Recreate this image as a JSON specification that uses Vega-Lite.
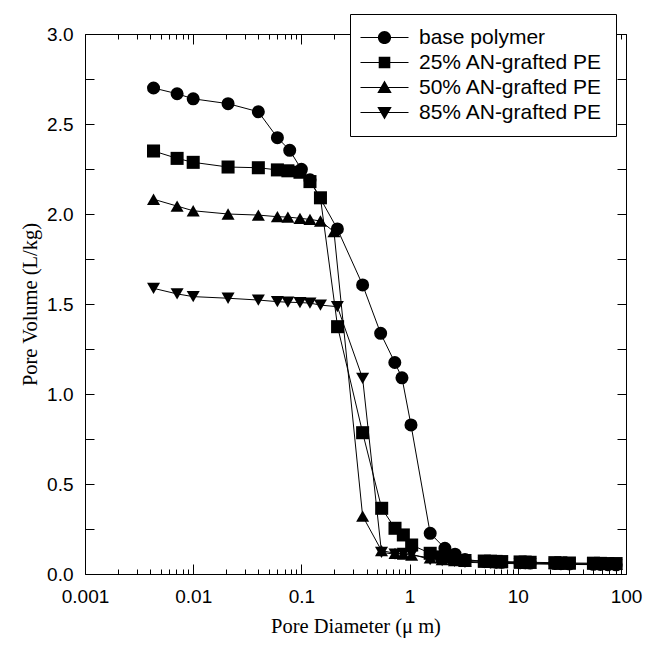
{
  "$schema": "https://vega.github.io/schema/vega-lite/v6.json",
  "width": 541,
  "height": 540,
  "autosize": {"type": "none"},
  "padding": {"left": 85, "top": 34, "right": 20, "bottom": 73},
  "background": "white",
  "config": {
    "view": {"stroke": null},
    "axis": {
      "grid": false,
      "domainColor": "black",
      "domainWidth": 1,
      "tickColor": "black",
      "tickWidth": 1,
      "labelColor": "black",
      "labelFont": "Liberation Sans",
      "labelFontSize": 19,
      "titleColor": "black",
      "titleFont": "Liberation Serif",
      "titleFontSize": 20.5,
      "titleFontWeight": "normal"
    }
  },
  "data": {
    "values": [
      {"diameter": 0.0043, "volume": 2.70, "series": "base polymer"},
      {"diameter": 0.0071, "volume": 2.668, "series": "base polymer"},
      {"diameter": 0.01, "volume": 2.64, "series": "base polymer"},
      {"diameter": 0.021, "volume": 2.613, "series": "base polymer"},
      {"diameter": 0.04, "volume": 2.568, "series": "base polymer"},
      {"diameter": 0.06, "volume": 2.424, "series": "base polymer"},
      {"diameter": 0.078, "volume": 2.354, "series": "base polymer"},
      {"diameter": 0.1, "volume": 2.248, "series": "base polymer"},
      {"diameter": 0.12, "volume": 2.19, "series": "base polymer"},
      {"diameter": 0.215, "volume": 1.917, "series": "base polymer"},
      {"diameter": 0.368, "volume": 1.606, "series": "base polymer"},
      {"diameter": 0.54, "volume": 1.337, "series": "base polymer"},
      {"diameter": 0.73, "volume": 1.175, "series": "base polymer"},
      {"diameter": 0.85, "volume": 1.09, "series": "base polymer"},
      {"diameter": 1.03, "volume": 0.828, "series": "base polymer"},
      {"diameter": 1.55, "volume": 0.226, "series": "base polymer"},
      {"diameter": 2.12, "volume": 0.143, "series": "base polymer"},
      {"diameter": 2.63, "volume": 0.11, "series": "base polymer"},
      {"diameter": 3.25, "volume": 0.08, "series": "base polymer"},
      {"diameter": 4.9, "volume": 0.07, "series": "base polymer"},
      {"diameter": 5.6, "volume": 0.068, "series": "base polymer"},
      {"diameter": 6.3, "volume": 0.066, "series": "base polymer"},
      {"diameter": 7.1, "volume": 0.065, "series": "base polymer"},
      {"diameter": 10.5, "volume": 0.063, "series": "base polymer"},
      {"diameter": 11.7, "volume": 0.062, "series": "base polymer"},
      {"diameter": 13, "volume": 0.061, "series": "base polymer"},
      {"diameter": 22, "volume": 0.058, "series": "base polymer"},
      {"diameter": 25, "volume": 0.057, "series": "base polymer"},
      {"diameter": 30, "volume": 0.056, "series": "base polymer"},
      {"diameter": 50, "volume": 0.054, "series": "base polymer"},
      {"diameter": 58, "volume": 0.053, "series": "base polymer"},
      {"diameter": 68, "volume": 0.052, "series": "base polymer"},
      {"diameter": 81, "volume": 0.051, "series": "base polymer"},

      {"diameter": 0.0043, "volume": 2.35, "series": "25% AN-grafted PE"},
      {"diameter": 0.0071, "volume": 2.309, "series": "25% AN-grafted PE"},
      {"diameter": 0.01, "volume": 2.287, "series": "25% AN-grafted PE"},
      {"diameter": 0.021, "volume": 2.261, "series": "25% AN-grafted PE"},
      {"diameter": 0.04, "volume": 2.257, "series": "25% AN-grafted PE"},
      {"diameter": 0.06, "volume": 2.245, "series": "25% AN-grafted PE"},
      {"diameter": 0.075, "volume": 2.24, "series": "25% AN-grafted PE"},
      {"diameter": 0.097, "volume": 2.232, "series": "25% AN-grafted PE"},
      {"diameter": 0.12, "volume": 2.18, "series": "25% AN-grafted PE"},
      {"diameter": 0.15, "volume": 2.09, "series": "25% AN-grafted PE"},
      {"diameter": 0.216, "volume": 1.374, "series": "25% AN-grafted PE"},
      {"diameter": 0.368, "volume": 0.785, "series": "25% AN-grafted PE"},
      {"diameter": 0.552, "volume": 0.365, "series": "25% AN-grafted PE"},
      {"diameter": 0.733, "volume": 0.254, "series": "25% AN-grafted PE"},
      {"diameter": 0.875, "volume": 0.217, "series": "25% AN-grafted PE"},
      {"diameter": 1.045, "volume": 0.161, "series": "25% AN-grafted PE"},
      {"diameter": 1.55, "volume": 0.115, "series": "25% AN-grafted PE"},
      {"diameter": 2.0, "volume": 0.095, "series": "25% AN-grafted PE"},
      {"diameter": 2.6, "volume": 0.085, "series": "25% AN-grafted PE"},
      {"diameter": 3.25, "volume": 0.075, "series": "25% AN-grafted PE"},
      {"diameter": 4.9, "volume": 0.072, "series": "25% AN-grafted PE"},
      {"diameter": 5.6, "volume": 0.071, "series": "25% AN-grafted PE"},
      {"diameter": 6.3, "volume": 0.07, "series": "25% AN-grafted PE"},
      {"diameter": 7.1, "volume": 0.069, "series": "25% AN-grafted PE"},
      {"diameter": 10.5, "volume": 0.067, "series": "25% AN-grafted PE"},
      {"diameter": 11.7, "volume": 0.066, "series": "25% AN-grafted PE"},
      {"diameter": 13, "volume": 0.065, "series": "25% AN-grafted PE"},
      {"diameter": 22, "volume": 0.063, "series": "25% AN-grafted PE"},
      {"diameter": 25, "volume": 0.062, "series": "25% AN-grafted PE"},
      {"diameter": 30, "volume": 0.061, "series": "25% AN-grafted PE"},
      {"diameter": 50, "volume": 0.06, "series": "25% AN-grafted PE"},
      {"diameter": 58, "volume": 0.059, "series": "25% AN-grafted PE"},
      {"diameter": 68, "volume": 0.058, "series": "25% AN-grafted PE"},
      {"diameter": 81, "volume": 0.058, "series": "25% AN-grafted PE"},

      {"diameter": 0.0043, "volume": 2.082, "series": "50% AN-grafted PE"},
      {"diameter": 0.0071, "volume": 2.044, "series": "50% AN-grafted PE"},
      {"diameter": 0.01, "volume": 2.018, "series": "50% AN-grafted PE"},
      {"diameter": 0.021, "volume": 2.0, "series": "50% AN-grafted PE"},
      {"diameter": 0.04, "volume": 1.994, "series": "50% AN-grafted PE"},
      {"diameter": 0.06, "volume": 1.985, "series": "50% AN-grafted PE"},
      {"diameter": 0.075, "volume": 1.983, "series": "50% AN-grafted PE"},
      {"diameter": 0.097, "volume": 1.976, "series": "50% AN-grafted PE"},
      {"diameter": 0.12, "volume": 1.97, "series": "50% AN-grafted PE"},
      {"diameter": 0.15, "volume": 1.961, "series": "50% AN-grafted PE"},
      {"diameter": 0.2, "volume": 1.902, "series": "50% AN-grafted PE"},
      {"diameter": 0.368, "volume": 0.322, "series": "50% AN-grafted PE"},
      {"diameter": 0.55, "volume": 0.13, "series": "50% AN-grafted PE"},
      {"diameter": 0.733, "volume": 0.115, "series": "50% AN-grafted PE"},
      {"diameter": 0.875, "volume": 0.11, "series": "50% AN-grafted PE"},
      {"diameter": 1.045, "volume": 0.105, "series": "50% AN-grafted PE"},
      {"diameter": 1.55, "volume": 0.09, "series": "50% AN-grafted PE"},
      {"diameter": 2.0, "volume": 0.08, "series": "50% AN-grafted PE"},
      {"diameter": 2.6, "volume": 0.075, "series": "50% AN-grafted PE"},
      {"diameter": 3.25, "volume": 0.07, "series": "50% AN-grafted PE"},
      {"diameter": 4.9, "volume": 0.066, "series": "50% AN-grafted PE"},
      {"diameter": 5.6, "volume": 0.065, "series": "50% AN-grafted PE"},
      {"diameter": 6.3, "volume": 0.064, "series": "50% AN-grafted PE"},
      {"diameter": 7.1, "volume": 0.063, "series": "50% AN-grafted PE"},
      {"diameter": 10.5, "volume": 0.061, "series": "50% AN-grafted PE"},
      {"diameter": 11.7, "volume": 0.06, "series": "50% AN-grafted PE"},
      {"diameter": 13, "volume": 0.06, "series": "50% AN-grafted PE"},
      {"diameter": 22, "volume": 0.058, "series": "50% AN-grafted PE"},
      {"diameter": 25, "volume": 0.057, "series": "50% AN-grafted PE"},
      {"diameter": 30, "volume": 0.057, "series": "50% AN-grafted PE"},
      {"diameter": 50, "volume": 0.056, "series": "50% AN-grafted PE"},
      {"diameter": 58, "volume": 0.055, "series": "50% AN-grafted PE"},
      {"diameter": 68, "volume": 0.055, "series": "50% AN-grafted PE"},
      {"diameter": 81, "volume": 0.054, "series": "50% AN-grafted PE"},

      {"diameter": 0.0043, "volume": 1.587, "series": "85% AN-grafted PE"},
      {"diameter": 0.0071, "volume": 1.556, "series": "85% AN-grafted PE"},
      {"diameter": 0.01, "volume": 1.541, "series": "85% AN-grafted PE"},
      {"diameter": 0.021, "volume": 1.532, "series": "85% AN-grafted PE"},
      {"diameter": 0.04, "volume": 1.522, "series": "85% AN-grafted PE"},
      {"diameter": 0.06, "volume": 1.513, "series": "85% AN-grafted PE"},
      {"diameter": 0.075, "volume": 1.51, "series": "85% AN-grafted PE"},
      {"diameter": 0.097, "volume": 1.508, "series": "85% AN-grafted PE"},
      {"diameter": 0.12, "volume": 1.505, "series": "85% AN-grafted PE"},
      {"diameter": 0.15, "volume": 1.494, "series": "85% AN-grafted PE"},
      {"diameter": 0.215, "volume": 1.485, "series": "85% AN-grafted PE"},
      {"diameter": 0.368, "volume": 1.087, "series": "85% AN-grafted PE"},
      {"diameter": 0.55, "volume": 0.12, "series": "85% AN-grafted PE"},
      {"diameter": 0.733, "volume": 0.11, "series": "85% AN-grafted PE"},
      {"diameter": 0.875, "volume": 0.115, "series": "85% AN-grafted PE"},
      {"diameter": 1.045, "volume": 0.11, "series": "85% AN-grafted PE"},
      {"diameter": 1.55, "volume": 0.08, "series": "85% AN-grafted PE"},
      {"diameter": 2.0, "volume": 0.075, "series": "85% AN-grafted PE"},
      {"diameter": 2.6, "volume": 0.07, "series": "85% AN-grafted PE"},
      {"diameter": 3.25, "volume": 0.065, "series": "85% AN-grafted PE"},
      {"diameter": 4.9, "volume": 0.062, "series": "85% AN-grafted PE"},
      {"diameter": 5.6, "volume": 0.061, "series": "85% AN-grafted PE"},
      {"diameter": 6.3, "volume": 0.06, "series": "85% AN-grafted PE"},
      {"diameter": 7.1, "volume": 0.059, "series": "85% AN-grafted PE"},
      {"diameter": 10.5, "volume": 0.057, "series": "85% AN-grafted PE"},
      {"diameter": 11.7, "volume": 0.056, "series": "85% AN-grafted PE"},
      {"diameter": 13, "volume": 0.056, "series": "85% AN-grafted PE"},
      {"diameter": 22, "volume": 0.054, "series": "85% AN-grafted PE"},
      {"diameter": 25, "volume": 0.053, "series": "85% AN-grafted PE"},
      {"diameter": 30, "volume": 0.053, "series": "85% AN-grafted PE"},
      {"diameter": 50, "volume": 0.052, "series": "85% AN-grafted PE"},
      {"diameter": 58, "volume": 0.051, "series": "85% AN-grafted PE"},
      {"diameter": 68, "volume": 0.051, "series": "85% AN-grafted PE"},
      {"diameter": 81, "volume": 0.05, "series": "85% AN-grafted PE"}
    ]
  },
  "layer": [
    {
      "mark": {"type": "line", "color": "black", "strokeWidth": 1},
      "encoding": {
        "x": {
          "field": "diameter", "type": "quantitative",
          "scale": {"type": "log", "domain": [0.001, 100]},
          "title": "Pore Diameter (μ m)",
          "axis": {
            "orient": "bottom",
            "values": [0.001, 0.01, 0.1, 1, 10, 100],
            "format": "~g",
            "ticks": false,
            "labelPadding": 13,
            "labelFlush": false,
            "labelOverlap": false,
            "titlePadding": 10
          }
        },
        "y": {
          "field": "volume", "type": "quantitative",
          "scale": {"domain": [0, 3]},
          "title": "Pore Volume (L/kg)",
          "axis": {
            "orient": "left",
            "values": [0, 0.5, 1, 1.5, 2, 2.5, 3],
            "format": ".1f",
            "ticks": false,
            "labelPadding": 12,
            "labelOverlap": false,
            "titlePadding": 6
          }
        },
        "detail": {"field": "series"}
      }
    },
    {
      "mark": {"type": "point", "filled": true, "color": "black", "opacity": 1, "size": 170},
      "encoding": {
        "x": {
          "field": "diameter", "type": "quantitative",
          "scale": {"type": "log", "domain": [0.001, 100]},
          "axis": {
            "orient": "top",
            "offset": -540,
            "title": null,
            "labels": false,
            "domain": false,
            "values": [0.001,0.002,0.003,0.004,0.005,0.006,0.007,0.008,0.009,0.01,0.02,0.03,0.04,0.05,0.06,0.07,0.08,0.09,0.1,0.2,0.3,0.4,0.5,0.6,0.7,0.8,0.9,1,2,3,4,5,6,7,8,9,10,20,30,40,50,60,70,80,90,100],
            "tickSize": {"condition": {"test": "indexof([0.001,0.01,0.1,1,10,100], datum.value) >= 0", "value": 10}, "value": 5}
          }
        },
        "y": {
          "field": "volume", "type": "quantitative",
          "scale": {"domain": [0, 3]},
          "axis": {
            "orient": "right",
            "offset": -541,
            "title": null,
            "labels": false,
            "domain": false,
            "values": [0,0.25,0.5,0.75,1,1.25,1.5,1.75,2,2.25,2.5,2.75,3],
            "tickSize": 9
          }
        },
        "shape": {
          "field": "series", "type": "nominal",
          "scale": {
            "domain": ["base polymer", "25% AN-grafted PE", "50% AN-grafted PE", "85% AN-grafted PE"],
            "range": ["circle", "square", "triangle-up", "triangle-down"]
          },
          "legend": null
        }
      }
    },
    {
      "mark": {"type": "point", "opacity": 0},
      "encoding": {
        "x": {
          "field": "diameter", "type": "quantitative",
          "scale": {"type": "log", "domain": [0.001, 100]},
          "axis": {
            "orient": "bottom",
            "offset": -540,
            "title": null,
            "labels": false,
            "domain": true,
            "values": [0.001,0.002,0.003,0.004,0.005,0.006,0.007,0.008,0.009,0.01,0.02,0.03,0.04,0.05,0.06,0.07,0.08,0.09,0.1,0.2,0.3,0.4,0.5,0.6,0.7,0.8,0.9,1,2,3,4,5,6,7,8,9,10,20,30,40,50,60,70,80,90,100],
            "tickSize": {"condition": {"test": "indexof([0.001,0.01,0.1,1,10,100], datum.value) >= 0", "value": 10}, "value": 5}
          }
        },
        "y": {
          "field": "volume", "type": "quantitative",
          "scale": {"domain": [0, 3]},
          "axis": {
            "orient": "left",
            "offset": -541,
            "title": null,
            "labels": false,
            "domain": true,
            "values": [0,0.25,0.5,0.75,1,1.25,1.5,1.75,2,2.25,2.5,2.75,3],
            "tickSize": 9
          }
        }
      }
    },
    {
      "transform": [{"filter": "false"}],
      "mark": {"type": "point", "filled": true, "color": "black", "opacity": 1, "size": 400},
      "encoding": {
        "shape": {
          "field": "series", "type": "nominal",
          "scale": {
            "domain": ["base polymer", "25% AN-grafted PE", "50% AN-grafted PE", "85% AN-grafted PE"],
            "range": [
              "M-2.4,-0.05H2.4V0.05H-2.4ZM-0.66,0A0.66,0.66,0,1,1,0.66,0A0.66,0.66,0,1,1,-0.66,0Z",
              "M-2.4,-0.05H2.4V0.05H-2.4ZM-0.58,-0.58H0.58V0.58H-0.58Z",
              "M-2.4,-0.05H2.4V0.05H-2.4ZM0,-0.7L0.72,0.55H-0.72Z",
              "M-2.4,-0.05H2.4V0.05H-2.4ZM0,0.7L-0.72,-0.55H0.72Z"
            ]
          },
          "legend": {
            "title": null,
            "orient": "none",
            "legendX": 265,
            "legendY": -20,
            "padding": 13,
            "strokeColor": "black",
            "fillColor": "white",
            "labelFont": "Liberation Sans",
            "labelFontSize": 21,
            "labelColor": "black",
            "labelLimit": 0,
            "symbolSize": 400,
            "symbolOffset": 11,
            "labelOffset": 24,
            "rowPadding": 3,
            "symbolStrokeWidth": 0,
            "symbolFillColor": "black",
            "symbolOpacity": 1
          }
        }
      }
    }
  ],
  "resolve": {
    "axis": {"x": "independent", "y": "independent"},
    "scale": {"shape": "independent"}
  }
}
